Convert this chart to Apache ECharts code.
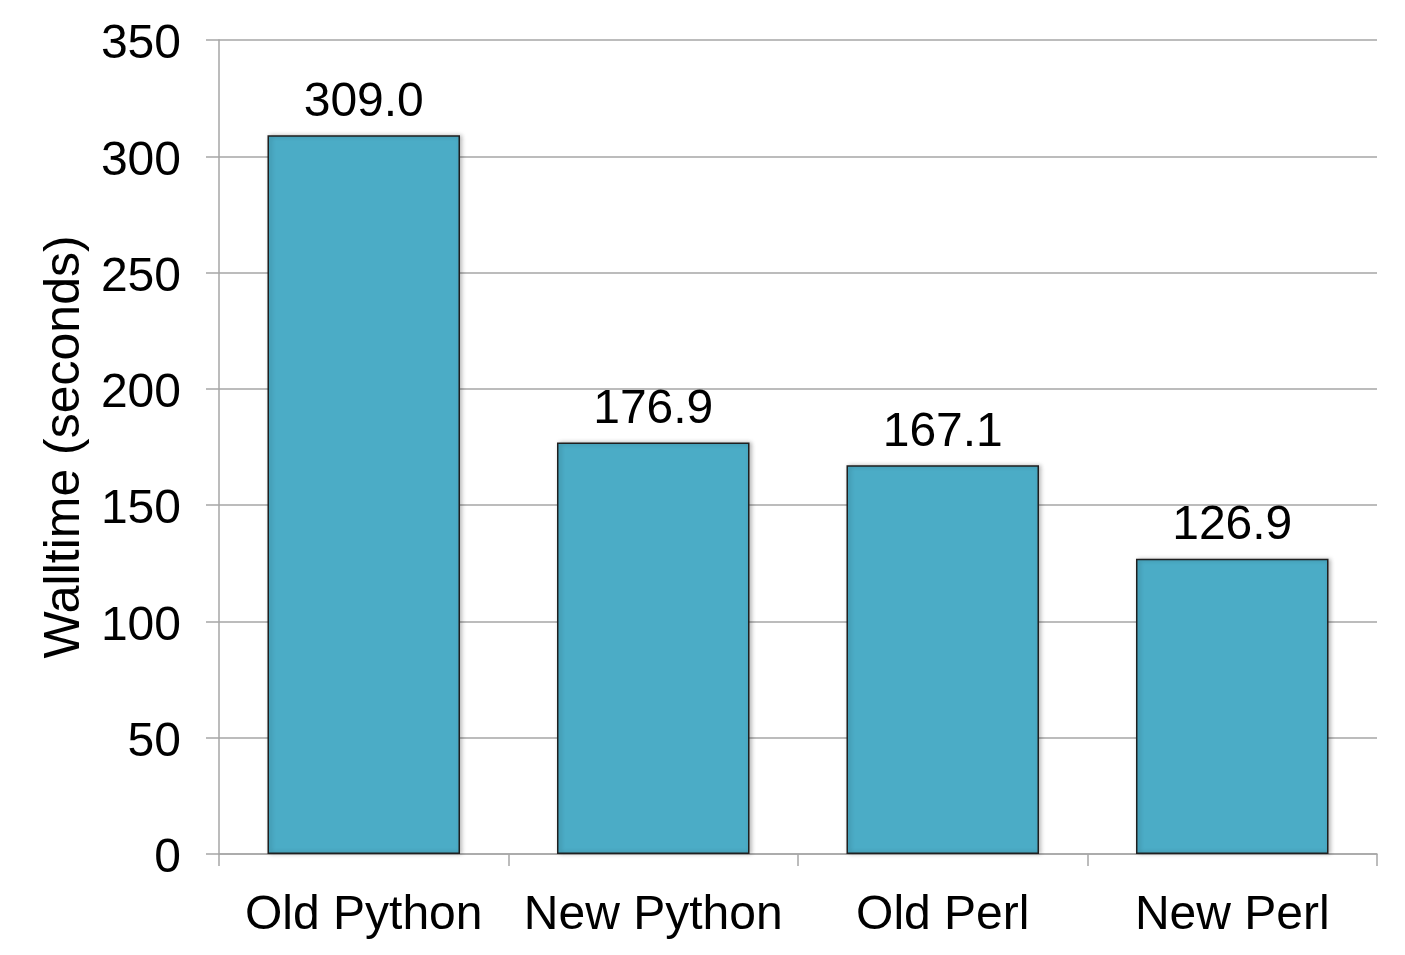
<!DOCTYPE html>
<html>
<head>
<meta charset="utf-8">
<script src="https://cdn.jsdelivr.net/npm/echarts@6/dist/echarts.min.js"></script>
<style>
html,body{margin:0;padding:0;background:#fff;}
#chart{width:1405px;height:955px;}
</style>
</head>
<body>
<div id="chart"></div>
<script>
const categories = ['Old Python', 'New Python', 'Old Perl', 'New Perl'];
const walltime = [309.0, 176.9, 167.1, 126.9];
const yAxisTitle = 'Walltime (seconds)';

const FONT = 'Liberation Sans, Arial, sans-serif';
const chart = echarts.init(document.getElementById('chart'), null, {renderer: 'canvas'});
chart.setOption({
  backgroundColor: '#ffffff',
  animation: false,
  grid: {left: 219, right: 28, top: 40, bottom: 101, containLabel: false},
  xAxis: {
    type: 'category',
    data: categories,
    axisLine: {show: true, lineStyle: {color: '#a6a6a6', width: 1.5}},
    axisTick: {show: true, interval: 0, length: 12, lineStyle: {color: '#a6a6a6', width: 1.5}},
    axisLabel: {interval: 0, color: '#000', fontFamily: FONT, fontSize: 48, margin: 38}
  },
  yAxis: {
    type: 'value',
    min: 0, max: 350, interval: 50,
    name: yAxisTitle,
    nameLocation: 'middle',
    nameRotate: 90,
    nameGap: 129,
    nameTextStyle: {color: '#000', fontFamily: FONT, fontSize: 50},
    axisLine: {show: true, lineStyle: {color: '#a6a6a6', width: 1.5}},
    axisTick: {show: true, length: 13, lineStyle: {color: '#a6a6a6', width: 1.5}},
    splitLine: {show: true, lineStyle: {color: '#a6a6a6', width: 1.5}},
    axisLabel: {color: '#000', fontFamily: FONT, fontSize: 48, margin: 38,
      verticalAlign: 'top', lineHeight: 10}
  },
  series: [{
    type: 'bar',
    data: walltime,
    barWidth: '66.5%',
    itemStyle: {color: '#4BACC6', borderColor: '#1f1f1f', borderWidth: 1.5,
      shadowColor: 'rgba(0,0,0,0.25)', shadowBlur: 4, shadowOffsetX: 2, shadowOffsetY: 0},
    label: {
      show: true, position: 'top', distance: 9,
      color: '#000', fontFamily: FONT, fontSize: 48,
      formatter: p => p.value.toFixed(1)
    }
  }]
});
</script>
</body>
</html>
